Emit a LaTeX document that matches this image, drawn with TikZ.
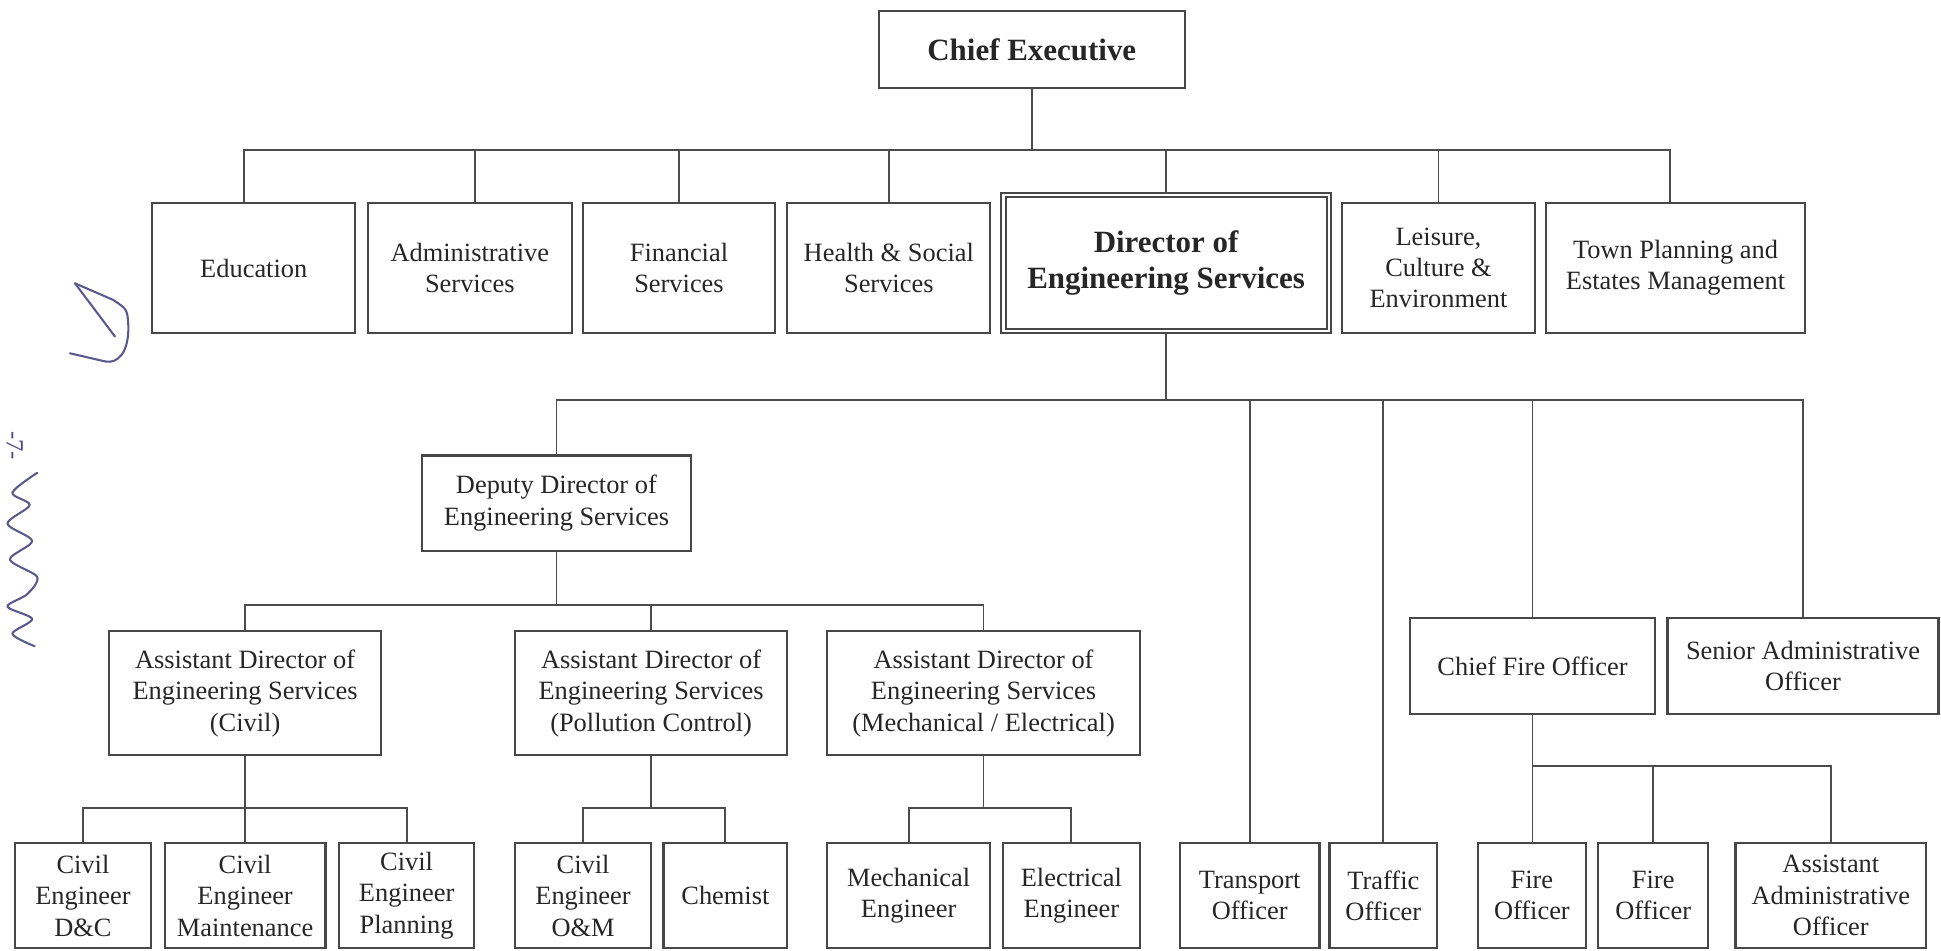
\documentclass[tikz,border=0pt]{standalone}
\usepackage{fontspec}
\setmainfont{Liberation Serif}
\begin{document}
\begin{tikzpicture}[
  x = 0.6pt, y = -0.6pt,
  % Boxes take their width and height in picture units.
  box/.style 2 args = {draw=black!72, line width=1.1pt,
    minimum width=#1*0.6pt, minimum height=#2*0.6pt, inner sep=1pt,
    align=center, text=black!85, font=\fontsize{12.8}{15.2}\selectfont},
  head/.style = {font=\fontsize{15}{17.5}\selectfont\bfseries},
  twin/.style = {double, line width=0.9pt, double distance=1.3pt},
  link/.style = {draw=black!70, line width=0.9pt},
  pen/.style  = {draw=blue!30!black!65, line width=1pt, line cap=round, line join=round},
]
\useasboundingbox (0, 0) rectangle (1568, 768);

% --- chief executive and the departments
\node[box={247}{62}, head] (ce) at (833.5, 40) {Chief Executive};
\node[box={164}{105}] (edu) at (205, 216.5) {Education};
\node[box={165}{105}] (adm) at (379.5, 216.5) {Administrative\\Services};
\node[box={155}{105}] (fin) at (548.5, 216.5) {Financial\\Services};
\node[box={164}{105}] (hea) at (718, 216.5) {Health \& Social\\Services};
\node[box={263}{110}, head, twin] (des) at (942, 212.5) {Director of\\Engineering Services};
\node[box={156}{105}] (lce) at (1162, 216.5) {Leisure,\\Culture \&\\Environment};
\node[box={209}{105}] (tpe) at (1353.5, 216.5) {Town Planning and\\Estates Management};

\coordinate (bus1) at (0, 121);
\coordinate (edu-top) at ([xshift=-4.8pt]edu.north);
\coordinate (adm-top) at ([xshift=2.7pt]adm.north);
\coordinate (tpe-top) at ([xshift=-2.7pt]tpe.north);
\draw[link] (ce.south) -- (ce.south |- bus1);
\draw[link] (edu-top) -- (edu-top |- bus1) -- (tpe-top |- bus1) -- (tpe-top);
\foreach \n in {adm-top,fin.north,hea.north,des.north,lce.north}
  \draw[link] (\n) -- (\n |- bus1);

% --- under the director
\node[box={217}{77}] (dep) at (449.5, 406.5) {Deputy Director of\\Engineering Services};
\node[box={198}{78}] (cfo) at (1238, 538) {Chief Fire Officer};
\node[box={219}{78}] (sao) at (1456.5, 538) {Senior Administrative\\Officer};
\node[box={113}{85}] (tro) at (1009.5, 723.5) {Transport\\Officer};
\node[box={87}{85}]  (tfo) at (1117.5, 723.5) {Traffic\\Officer};

\coordinate (bus2) at (0, 323);
\draw[link] (des.south) -- (des.south |- bus2);
\draw[link] (dep.north) -- (dep.north |- bus2) -- (sao.north |- bus2) -- (sao.north);
\foreach \n in {tro,tfo,cfo}
  \draw[link] (\n.north) -- (\n.north |- bus2);

% --- assistant directors
\node[box={220}{100}] (adc) at (198, 560) {Assistant Director of\\Engineering Services\\(Civil)};
\node[box={220}{100}] (adp) at (526, 560) {Assistant Director of\\Engineering Services\\(Pollution Control)};
\node[box={253}{100}] (ame) at (794.5, 560) {Assistant Director of\\Engineering Services\\(Mechanical / Electrical)};

\coordinate (bus3) at (0, 489);
\draw[link] (dep.south) -- (dep.south |- bus3);
\draw[link] (adc.north) -- (adc.north |- bus3) -- (ame.north |- bus3) -- (ame.north);
\draw[link] (adp.north) -- (adp.north |- bus3);

% --- engineers and officers, bottom row
\node[box={110}{85}] (ced) at (67, 723.5)    {Civil\\Engineer\\D\&C};
\node[box={130}{85}] (cem) at (198, 723.5)   {Civil\\Engineer\\Maintenance};
\node[box={109}{85}] (cep) at (328.5, 723.5) {Civil\\Engineer\\Planning};
\node[box={110}{85}] (ceo) at (471, 723.5)   {Civil\\Engineer\\O\&M};
\node[box={100}{85}] (chm) at (586, 723.5)   {Chemist};
\node[box={132}{85}] (mec) at (734, 723.5)   {Mechanical\\Engineer};
\node[box={111}{85}] (ele) at (865.5, 723.5) {Electrical\\Engineer};
\node[box={87}{85}]  (fo1) at (1237.5, 723.5) {Fire\\Officer};
\node[box={89}{85}]  (fo2) at (1335.5, 723.5) {Fire\\Officer};
\node[box={154}{85}] (aao) at (1479, 723.5)  {Assistant\\Administrative\\Officer};

\coordinate (bus4) at (0, 653);
\draw[link] (adc.south) -- (adc.south |- cem.north);
\draw[link] (ced.north) -- (ced.north |- bus4) -- (cep.north |- bus4) -- (cep.north);
\draw[link] (adp.south) -- (adp.south |- bus4);
\draw[link] (ceo.north) -- (ceo.north |- bus4) -- (chm.north |- bus4) -- (chm.north);
\draw[link] (ame.south) -- (ame.south |- bus4);
\draw[link] (mec.north) -- (mec.north |- bus4) -- (ele.north |- bus4) -- (ele.north);

\coordinate (bus5) at (0, 619);
\draw[link] (cfo.south) -- (cfo.south |- fo1.north);
\draw[link] (fo1.north |- bus5) -- (aao.north |- bus5) -- (aao.north);
\draw[link] (fo2.north) -- (fo2.north |- bus5);

% --- pen marks in the margin
\draw[pen] (60.6, 228.9) -- (91.5, 242.3) .. controls (103, 250) .. (103.7, 263.9)
  .. controls (104, 285) and (95, 294) .. (85, 292) -- (56.5, 285.4);
\draw[pen] (60.6, 228.9) -- (92.9, 271.9);
\node[rotate=-90, text=blue!30!black!70, font=\fontsize{12}{12}\selectfont] (pageno) at (12, 360) {-7-};
\draw[pen] plot[smooth] coordinates {(30, 382) (10, 398) (24, 408) (6, 423) (26, 437)
  (8, 452) (30, 466) (22, 480) (6, 490) (26, 500) (10, 512) (28, 522)};

\end{tikzpicture}
\end{document}
